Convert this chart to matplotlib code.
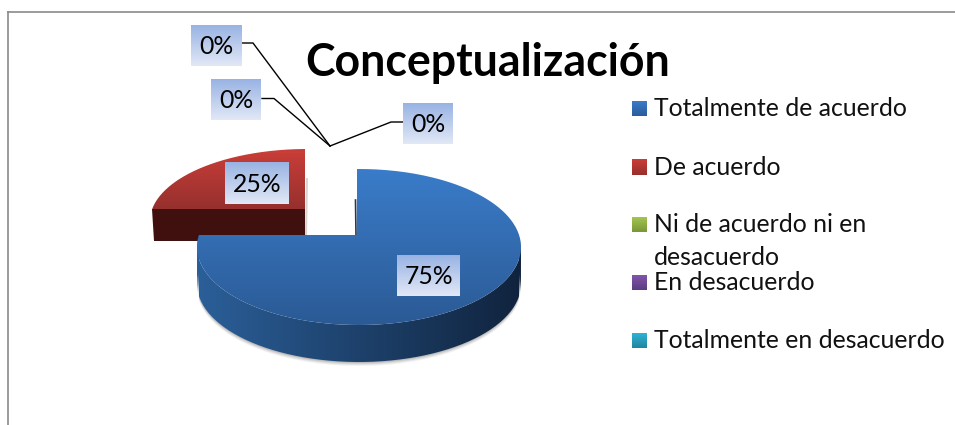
import numpy as np
import matplotlib
matplotlib.use('Agg')
from matplotlib import pyplot as plt
from matplotlib.patches import Polygon
from matplotlib.path import Path

# Chart data
title = 'Conceptualización'
categories = ['Totalmente de acuerdo', 'De acuerdo', 'Ni de acuerdo ni en\ndesacuerdo',
              'En desacuerdo', 'Totalmente en desacuerdo']
values = [75, 25, 0, 0, 0]
swatch_top = ['#3b7cc8', '#cb3e39', '#a3c651', '#8156aa', '#2fb4d6']
swatch_bottom = ['#2b5c99', '#96302d', '#7a9638', '#5c3c80', '#21849f']

plt.rcParams['font.family'] = ['Lato', 'DejaVu Sans']

fig = plt.figure(figsize=[9.55, 4.25], dpi=100)
ax = fig.add_axes([0, 0, 1, 1])


def gradient(path, x0, x1, y0, y1, c0, c1, vertical=True, zorder=2):
    # fill a path with a two colour gradient, clipped by the path
    c0 = np.array(matplotlib.colors.to_rgb(c0))
    c1 = np.array(matplotlib.colors.to_rgb(c1))
    t = np.linspace(0, 1, 128)
    img = c0 + (c1 - c0) * t[:, None]
    img = img[:, None, :] if vertical else img[None, :, :]
    im = ax.imshow(img, extent=[x0, x1, y1, y0], aspect='auto', zorder=zorder, interpolation='bilinear')
    if path is not None:
        im.set_clip_path(Path(path), ax.transData)


def rim(a, apex, center, rx, ry):
    # point of the ellipse seen from the apex at pie angle a (degrees)
    d = np.array([np.cos(np.radians(a)) * rx, -np.sin(np.radians(a)) * ry])
    p = (np.array(apex, dtype=float) - center) / [rx, ry]
    q = d / [rx, ry]
    A, B, C = q @ q, 2 * p @ q, p @ p - 1
    s = (-B + np.sqrt(B * B - 4 * A * C)) / (2 * A)
    return np.array(apex) + s * d


def slice_points(start, sweep, apex, center, rx, ry):
    angles = start - np.linspace(0, sweep, 200)
    return np.array([rim(a, apex, np.array(center, dtype=float), rx, ry) for a in angles])


sweeps = [v / sum(values) * 360 for v in values]

# Red slice (pulled out of the pie), drawn first so the blue covers its base
red_apex = (305, 209)
red_start = 90 - sweeps[0]
red = slice_points(red_start, sweeps[1], red_apex, (307, 221), 157, 72)
red_top = np.vstack([red, [red_apex]])
red_depth = 32
front = [red[0], red_apex, (red_apex[0], red_apex[1] + red_depth), (red[0][0] + 2, red[0][1] + red_depth)]
ax.add_patch(Polygon([(306, 178), (308, 178), (307, 235), (305, 235)], fc='#d8d4d4', ec='none', zorder=1))
ax.add_patch(Polygon(front, fc='#40100e', ec='none', zorder=2))
gradient(red_top, 145, 310, 149, 210, '#cb3e39', '#95302d')

# Blue slice
apex = (357, 235)
center = (359, 247)
rx, ry = 162, 78
depth = 37
blue = slice_points(90, sweeps[0], apex, center, rx, ry)
blue_top = np.vstack([blue, [apex]])

# outer wall, only the part of the rim facing the viewer
low = blue[blue[:, 1] >= 235]
low = low[np.argsort(low[:, 0])]
wall = np.vstack([low, (low + [0, depth])[::-1]])

# soft shadow below the wall
for grow, alpha in [(4, 0.08), (3, 0.10), (2, 0.14), (1, 0.18)]:
    ax.add_patch(Polygon(wall + [0, grow], fc='#606060', alpha=alpha, ec='none', zorder=1))
gradient(wall, 197, 522, 235, 365, '#2b5f99', '#10233d', vertical=False)
gradient(blue_top, 195, 523, 169, 326, '#3a7cc9', '#2b5a95', zorder=3)
ax.plot([355.5, 356], [200, 235], color='#1d3a60', lw=1.2, zorder=2)

# Leader lines of the 0% labels
leaders = [[(241, 43), (253, 43), (330, 146)],
           [(262, 98.5), (274, 98.5), (330, 146)],
           [(403, 122), (391, 122), (330, 146)]]
for line in leaders:
    xs, ys = zip(*line)
    ax.plot(xs, ys, color='black', lw=1.0, zorder=4)

# Value labels
label_boxes = [(397, 460, 255, 296), (225, 289, 163, 204), (403, 453, 103, 144),
               (211, 261, 79, 120), (191, 241, 25, 66)]
for v, (x0, x1, y0, y1) in zip(values, label_boxes):
    gradient(None, x0, x1, y0, y1, '#98b3e3', '#e2e8f6', zorder=5)
    ax.text((x0 + x1) / 2, (y0 + y1) / 2 + 1, f'{v}%', fontsize=17.8, color='black',
            ha='center', va='center', zorder=6)

# Legend
swatch_y = [101, 160, 217, 275, 333]
for name, y, c0, c1 in zip(categories, swatch_y, swatch_top, swatch_bottom):
    gradient(None, 632, 647, y, y + 15, c0, c1)
    lines = name.split('\n')
    for i, t in enumerate(lines):
        ax.text(654, y + 15 + i * 33, t, fontsize=17.8, color='#111111', ha='left', va='baseline', zorder=6)

ax.text(488, 63, title, fontsize=32.1, fontweight='bold', color='black', ha='center', va='center', zorder=6)

# Chart frame, top and left only are inside the crop
ax.plot([7.5, 955], [12, 12], color='#8a8a8a', lw=1.2, zorder=1)
ax.plot([7.5, 7.5], [12, 425], color='#8a8a8a', lw=1.2, zorder=1)

ax.set_xlim(0, 955)
ax.set_ylim(425, 0)
ax.axis('off')
plt.savefig('out.png', dpi=100)
